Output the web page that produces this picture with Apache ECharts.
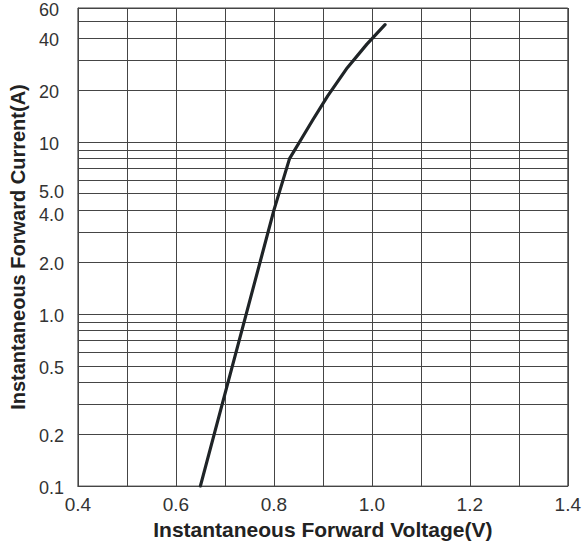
<!DOCTYPE html>
<html>
<head>
<meta charset="utf-8">
<script src="https://cdn.jsdelivr.net/npm/echarts@6/dist/echarts.min.js"></script>
<style>
html,body{margin:0;padding:0;background:#fff;}
#chart{width:584px;height:545px;}
</style>
</head>
<body>
<div id="chart"></div>
<script>
// Forward voltage (V) and forward current (A)
const voltage = [0.65, 0.80, 0.832, 0.857, 0.88, 0.91, 0.95, 0.99, 1.027];
const current = [0.1, 4.0, 8.0, 10.5, 13.5, 18.5, 27, 37, 48];

// Axis ticks
const xLabelValues = [0.4, 0.6, 0.8, 1.0, 1.2, 1.4];
const xLabels = ['0.4', '0.6', '0.8', '1.0', '1.2', '1.4'];
const yGridValues = [0.1, 0.2, 0.3, 0.4, 0.5, 0.6, 0.7, 0.8, 0.9,
                     1, 2, 3, 4, 5, 6, 7, 8, 9,
                     10, 20, 30, 40, 50, 60];
const yLabelValues = [0.1, 0.2, 0.5, 1, 2, 4, 5, 10, 20, 40, 60];
const yLabels = ['0.1', '0.2', '0.5', '1.0', '2.0', '4.0', '5.0', '10', '20', '40', '60'];

function nearestIndex(values, v, useLog) {
  let best = 0, bd = Infinity;
  for (let i = 0; i < values.length; i++) {
    const d = useLog ? Math.abs(Math.log(values[i]) - Math.log(v)) : Math.abs(values[i] - v);
    if (d < bd) { bd = d; best = i; }
  }
  return best;
}

const labelFont = {fontFamily: 'Liberation Sans, Arial, sans-serif', fontSize: 18, color: '#333'};
const chart = echarts.init(document.getElementById('chart'), null, {renderer: 'svg'});
const gridColor = '#454545';
chart.setOption({
  animation: false,
  grid: {left: 73, right: 9, top: 8, bottom: 57, show: true, borderColor: gridColor, borderWidth: 1, containLabel: false},
  xAxis: {
    type: 'value', min: 0.4, max: 1.4, interval: 0.1,
    name: 'Instantaneous Forward Voltage(V)',
    nameLocation: 'middle', nameGap: 30,
    nameTextStyle: {fontFamily: 'Liberation Sans, Arial, sans-serif', fontWeight: 'bold', fontSize: 21, color: '#222'},
    axisLine: {show: true, lineStyle: {color: gridColor, width: 1}},
    axisTick: {show: false},
    axisLabel: Object.assign({
      customValues: xLabelValues,
      margin: 9,
      formatter: v => xLabels[nearestIndex(xLabelValues, v, false)]
    }, labelFont, {fontSize: 19}),
    splitLine: {show: true, lineStyle: {color: gridColor, width: 1}}
  },
  yAxis: {
    type: 'log', logBase: 10, min: 0.1, max: 60,
    name: 'Instantaneous Forward Current(A)',
    nameLocation: 'middle', nameGap: 49,
    nameTextStyle: {fontFamily: 'Liberation Sans, Arial, sans-serif', fontWeight: 'bold', fontSize: 20, color: '#222'},
    axisLine: {show: true, lineStyle: {color: gridColor, width: 1}},
    axisTick: {show: false, customValues: yGridValues},
    axisLabel: Object.assign({
      customValues: yLabelValues,
      margin: 39, align: 'left',
      formatter: v => {
        const t = yLabels[nearestIndex(yLabelValues, v, true)];
        if (t === '5.0') return '{up|' + t + '}';
        if (t === '4.0') return '{dn|' + t + '}';
        return '{n|' + t + '}';
      },
      rich: {
        n: Object.assign({padding: [4, 0, 0, 0]}, labelFont),
        up: Object.assign({padding: [0, 0, 3, 0]}, labelFont),
        dn: Object.assign({padding: [9, 0, 0, 0]}, labelFont)
      }
    }, labelFont),
    splitLine: {show: true, lineStyle: {color: gridColor, width: 1}},
    minorSplitLine: {show: false}
  },
  series: [{
    type: 'line',
    data: voltage.map((v, i) => [v, current[i]]),
    showSymbol: false, symbol: 'none',
    lineStyle: {color: '#1f2427', width: 3.2, join: 'round', cap: 'round'},
    smooth: false
  }]
});
</script>
</body>
</html>
